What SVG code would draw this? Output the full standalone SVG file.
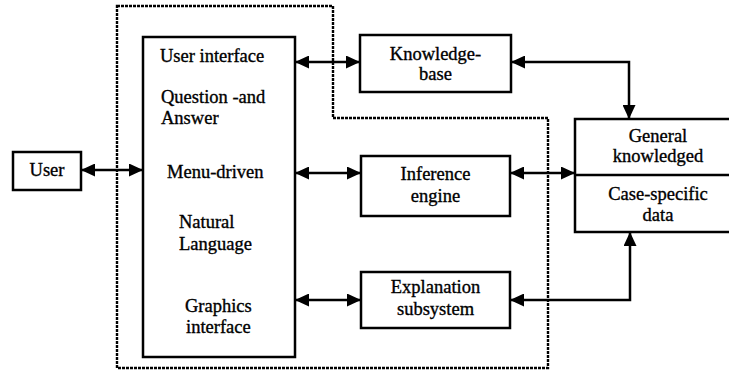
<svg xmlns="http://www.w3.org/2000/svg" width="729" height="371" viewBox="0 0 729 371" font-family="Liberation Serif, DejaVu Serif, serif">
<style>
  .box { fill: #fff; stroke: #000; stroke-width: 2.5; }
  text { font-family: "Liberation Serif", "DejaVu Serif", serif; font-size: 18.5px; fill: #000; stroke: #000; stroke-width: 0.35; }
  .c { text-anchor: middle; }
  .conn { fill: none; stroke: #000; stroke-width: 2.5; marker-start: url(#ah); marker-end: url(#ah); }
  .dots { fill: none; stroke: #000; stroke-width: 2.4; stroke-dasharray: 3 1; }
</style>
<defs>
  <marker id="ah" viewBox="0 0 14 13" refX="14" refY="6.5" markerWidth="14" markerHeight="13" markerUnits="userSpaceOnUse" orient="auto-start-reverse">
    <path d="M0,0 L14,6.5 L0,13 Z" fill="#000"/>
  </marker>
</defs>
<rect width="729" height="371" fill="#fff"/>
<path class="dots" d="M117,6 H333 V118 H548 V368 H117 Z"/>
<g id="user">
  <rect class="box" x="13" y="152" width="68" height="38"/>
  <text class="c" x="47" y="176">User</text>
</g>
<g id="user-interface">
  <rect class="box" x="143" y="37" width="152" height="320"/>
  <text x="160" y="62">User interface</text>
  <text x="161" y="103">Question -and</text>
  <text x="161" y="124">Answer</text>
  <text x="167" y="178">Menu-driven</text>
  <text x="179" y="228">Natural</text>
  <text x="179" y="250">Language</text>
  <text x="185" y="312">Graphics</text>
  <text x="186" y="333">interface</text>
</g>
<g id="knowledge-base">
  <rect class="box" x="360" y="35" width="151" height="57"/>
  <text class="c" x="435.5" y="60">Knowledge-</text>
  <text class="c" x="435.5" y="80">base</text>
</g>
<g id="inference-engine">
  <rect class="box" x="361" y="156" width="149" height="60"/>
  <text class="c" x="435.5" y="180">Inference</text>
  <text class="c" x="435.5" y="202">engine</text>
</g>
<g id="explanation-subsystem">
  <rect class="box" x="361" y="272" width="149" height="56"/>
  <text class="c" x="435.5" y="293">Explanation</text>
  <text class="c" x="435.5" y="315">subsystem</text>
</g>
<g id="knowledge-store">
  <rect class="box" x="575" y="119" width="170" height="113"/>
  <line x1="575" y1="175" x2="745" y2="175" stroke="#000" stroke-width="2.5"/>
  <text class="c" x="658" y="142">General</text>
  <text class="c" x="658" y="162">knowledged</text>
  <text class="c" x="658" y="200">Case-specific</text>
  <text class="c" x="658" y="221">data</text>
</g>
<g id="connectors">
  <path class="conn" d="M81,170 H143"/>
  <path class="conn" d="M295,62 H360"/>
  <path class="conn" d="M295,173 H361"/>
  <path class="conn" d="M295,300 H361"/>
  <path class="conn" d="M511,62 H629 V119"/>
  <path class="conn" d="M510,173 H575"/>
  <path class="conn" d="M510,300 H630 V232"/>
</g>
</svg>
